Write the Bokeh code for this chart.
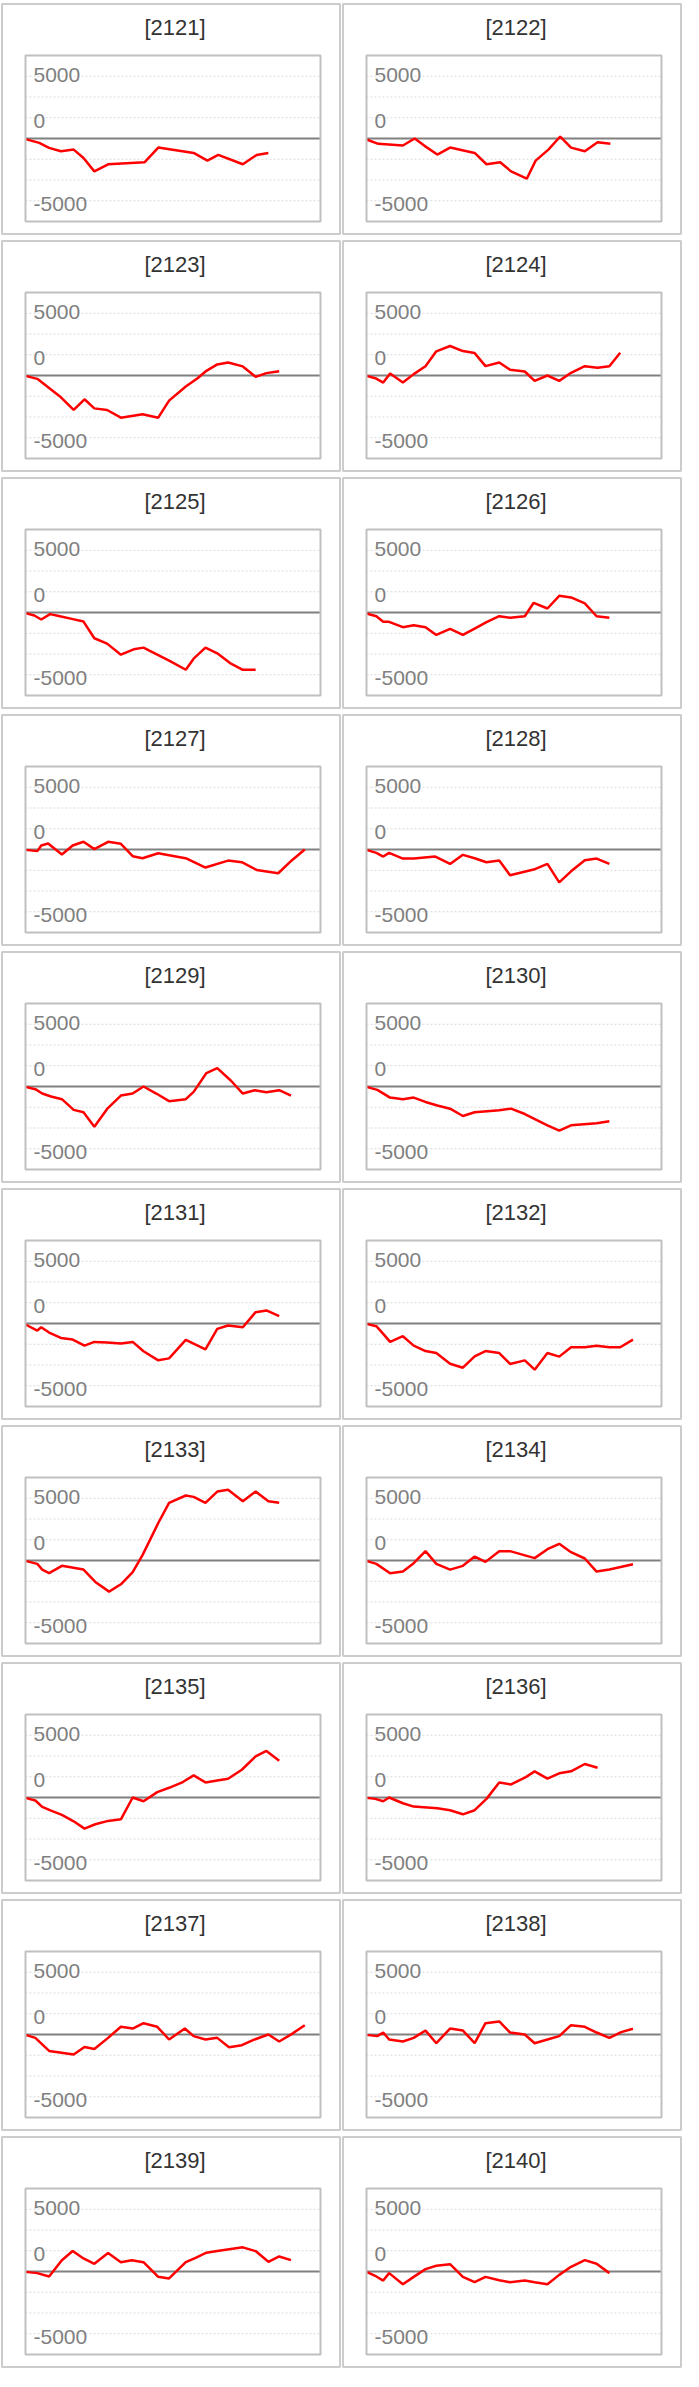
from bokeh.plotting import figure
from bokeh.layouts import gridplot
from bokeh.models import Range1d, ColumnDataSource
from bokeh.core.properties import value
from bokeh.embed import file_html
from bokeh.resources import INLINE

panel_ids = ["2121", "2122", "2123", "2124", "2125", "2126", "2127", "2128", "2129", "2130",
             "2131", "2132", "2133", "2134", "2135", "2136", "2137", "2138", "2139", "2140"]

x_2121 = [0, 1.4, 2.4, 3.6, 4.9, 5.9, 7.0, 8.4, 12.1, 13.5, 17.1, 18.5, 19.6, 22.1, 23.5, 24.7]
y_2121 = [-50, -350, -750, -1020, -890, -1560, -2640, -2070, -1910, -730, -1160, -1780, -1320, -2070, -1320, -1160]

x_2122 = [0, 1.2, 3.7, 4.9, 5.9, 7.2, 8.5, 11.0, 12.2, 13.6, 14.7, 16.3, 17.2, 18.5, 19.7, 20.8, 22.2, 23.5, 24.8]
y_2122 = [-80, -430, -565, 0, -590, -1290, -730, -1160, -2070, -1910, -2640, -3230, -1780, -890, 160, -730, -1020, -300, -430]

x_2123 = [0, 1.2, 2.4, 3.6, 4.9, 6.0, 7.0, 8.3, 9.7, 11.9, 13.5, 14.6, 16.3, 17.5, 18.4, 19.5, 20.6, 22.1, 23.4, 24.5, 25.8]
y_2123 = [-30, -270, -1000, -1750, -2770, -1910, -2640, -2770, -3390, -3120, -3390, -2020, -890, -215, 375, 890, 1050, 730, -110, 190, 350]

x_2124 = [0, 0.9, 1.7, 2.4, 3.7, 4.8, 6.0, 7.1, 8.5, 9.8, 11.0, 12.1, 13.5, 14.6, 16.1, 17.1, 18.4, 19.6, 20.8, 22.2, 23.5, 24.7, 25.8]
y_2124 = [-30, -215, -565, 160, -565, 110, 750, 1940, 2370, 1960, 1800, 750, 1050, 460, 320, -430, 0, -430, 215, 750, 620, 750, 1830]

x_2125 = [0, 0.9, 1.6, 2.5, 3.5, 4.7, 5.9, 7.0, 8.3, 9.7, 11.0, 12.0, 13.4, 14.7, 16.3, 17.1, 18.3, 19.5, 20.8, 22.1, 23.4]
y_2125 = [-50, -240, -565, -130, -300, -510, -730, -2070, -2500, -3390, -2960, -2820, -3390, -3900, -4600, -3710, -2820, -3280, -4060, -4600, -4600]

x_2126 = [0, 1.0, 1.7, 2.3, 3.7, 4.8, 6.0, 7.1, 8.5, 9.8, 11.0, 12.2, 13.5, 14.6, 16.1, 17.0, 18.4, 19.6, 20.8, 22.2, 23.4, 24.7]
y_2126 = [-80, -300, -750, -750, -1180, -1020, -1180, -1800, -1320, -1800, -1290, -780, -300, -430, -300, 780, 320, 1340, 1210, 730, -300, -430]

x_2127 = [0, 1.2, 1.6, 2.3, 3.7, 4.8, 5.9, 7.0, 8.4, 9.7, 10.9, 11.9, 13.5, 16.4, 18.3, 20.6, 22.0, 23.5, 25.7, 27.1, 28.4]
y_2127 = [-30, -130, 320, 480, -400, 320, 620, 30, 620, 460, -540, -700, -300, -730, -1450, -890, -1020, -1640, -1910, -860, 0]

x_2128 = [0, 1.0, 1.7, 2.3, 3.7, 4.8, 7.0, 8.5, 9.8, 11.0, 12.2, 13.5, 14.6, 17.0, 18.4, 19.6, 20.8, 22.2, 23.4, 24.7]
y_2128 = [-30, -270, -565, -270, -730, -730, -565, -1160, -430, -700, -1020, -890, -2070, -1610, -1160, -2640, -1750, -860, -730, -1160]

x_2129 = [0, 1.0, 1.7, 2.6, 3.7, 4.9, 5.9, 7.0, 8.3, 9.7, 10.9, 12.0, 13.3, 14.6, 16.3, 17.1, 18.4, 19.5, 20.9, 22.1, 23.3, 24.5, 25.8, 27.0]
y_2129 = [-30, -215, -565, -800, -1020, -1880, -2070, -3230, -1800, -730, -565, 0, -565, -1180, -1020, -430, 1080, 1480, 460, -565, -300, -460, -300, -730]

x_2130 = [0, 1.1, 2.4, 3.7, 4.8, 6.0, 7.2, 8.5, 9.8, 11.0, 13.5, 14.7, 16.1, 18.4, 19.6, 20.8, 23.4, 24.7]
y_2130 = [-30, -270, -890, -1020, -890, -1240, -1530, -1780, -2370, -2070, -1910, -1780, -2210, -3120, -3550, -3120, -2960, -2800]

x_2131 = [0, 1.2, 1.6, 2.4, 3.6, 4.8, 6.0, 7.0, 8.3, 9.7, 10.9, 12.0, 13.5, 14.6, 16.3, 18.3, 19.5, 20.6, 22.1, 23.4, 24.5, 25.8]
y_2131 = [-80, -565, -300, -730, -1160, -1290, -1780, -1480, -1530, -1610, -1480, -2230, -2960, -2800, -1320, -2070, -430, -160, -300, 910, 1050, 590]

x_2132 = [0, 1.0, 1.7, 2.4, 3.7, 4.8, 6.0, 7.1, 8.5, 9.8, 11.0, 12.1, 13.5, 14.6, 16.1, 17.1, 18.4, 19.6, 20.8, 22.2, 23.4, 24.7, 25.8, 27.1]
y_2132 = [-30, -215, -830, -1480, -1020, -1780, -2210, -2370, -3230, -3550, -2640, -2210, -2370, -3250, -2960, -3710, -2370, -2660, -1910, -1910, -1780, -1910, -1910, -1290]

x_2133 = [0, 1.2, 1.7, 2.4, 3.7, 5.9, 7.1, 8.5, 9.7, 10.9, 11.9, 12.8, 13.5, 14.6, 16.3, 17.1, 18.3, 19.5, 20.6, 22.1, 23.4, 24.7, 25.8]
y_2133 = [-30, -270, -730, -1020, -430, -730, -1720, -2500, -1910, -940, 430, 1880, 3010, 4630, 5220, 5110, 4630, 5540, 5680, 4760, 5540, 4760, 4630]

x_2134 = [0, 1.0, 2.4, 3.7, 4.8, 6.0, 7.1, 8.5, 9.8, 11.0, 12.1, 13.5, 14.6, 17.1, 18.4, 19.6, 20.8, 22.2, 23.4, 24.7, 27.1]
y_2134 = [-30, -270, -1020, -890, -215, 750, -270, -730, -430, 320, -110, 750, 750, 190, 910, 1340, 670, 160, -890, -730, -300]

x_2135 = [0, 1.0, 1.7, 2.6, 3.7, 4.9, 6.0, 7.1, 8.4, 9.7, 10.9, 12.0, 13.4, 14.6, 16.0, 17.1, 18.3, 19.5, 20.6, 22.0, 23.4, 24.5, 25.8]
y_2135 = [-30, -240, -750, -1050, -1400, -1910, -2500, -2150, -1880, -1750, 0, -300, 430, 780, 1240, 1780, 1210, 1370, 1510, 2230, 3310, 3740, 2960]

x_2136 = [0, 0.9, 1.7, 2.3, 3.7, 4.8, 7.2, 8.5, 9.8, 11.0, 12.2, 13.5, 14.7, 16.2, 17.1, 18.4, 19.6, 20.8, 22.2, 23.5]
y_2136 = [-30, -110, -300, 0, -460, -730, -860, -1020, -1350, -1020, -110, 1210, 1050, 1640, 2100, 1510, 1940, 2100, 2690, 2390]

x_2137 = [0, 1.0, 2.4, 4.9, 6.0, 7.0, 8.4, 9.7, 10.9, 12.0, 13.4, 14.6, 16.2, 17.1, 18.3, 19.5, 20.7, 22.0, 23.3, 24.7, 25.8, 27.1, 28.4]
y_2137 = [-30, -270, -1320, -1610, -1000, -1160, -270, 620, 480, 910, 620, -400, 480, -130, -400, -270, -1020, -860, -400, 0, -560, 50, 750]

x_2138 = [0, 1.1, 1.7, 2.3, 3.7, 4.8, 6.0, 7.1, 8.5, 9.8, 11.0, 12.1, 13.5, 14.6, 16.1, 17.1, 18.4, 19.6, 20.8, 22.2, 23.4, 24.7, 25.9, 27.1]
y_2138 = [-30, -130, 160, -400, -560, -270, 320, -700, 480, 320, -700, 910, 1050, 160, 0, -700, -400, -130, 750, 620, 160, -270, 190, 460]

x_2139 = [0, 1.2, 2.4, 3.7, 4.8, 5.9, 7.0, 8.4, 9.7, 10.8, 12.0, 13.5, 14.6, 16.3, 17.3, 18.4, 19.5, 22.1, 23.4, 24.7, 25.8, 27.0]
y_2139 = [-30, -130, -400, 910, 1640, 1050, 620, 1480, 750, 910, 750, -430, -560, 750, 1100, 1510, 1640, 1940, 1640, 780, 1210, 910]

x_2140 = [0, 1.0, 1.7, 2.3, 3.7, 4.8, 6.0, 7.1, 8.5, 9.8, 11.0, 12.1, 13.5, 14.6, 16.1, 17.1, 18.4, 19.6, 20.8, 22.2, 23.4, 24.7]
y_2140 = [-30, -400, -730, -130, -1020, -430, 190, 460, 590, -430, -860, -430, -700, -860, -730, -860, -1020, -270, 380, 910, 620, -130]

y_tick_values = [5000, 0, -5000]
y_tick_labels = ["5000", "0", "-5000"]

series = {
    "2121": (x_2121, y_2121), "2122": (x_2122, y_2122), "2123": (x_2123, y_2123),
    "2124": (x_2124, y_2124), "2125": (x_2125, y_2125), "2126": (x_2126, y_2126),
    "2127": (x_2127, y_2127), "2128": (x_2128, y_2128), "2129": (x_2129, y_2129),
    "2130": (x_2130, y_2130), "2131": (x_2131, y_2131), "2132": (x_2132, y_2132),
    "2133": (x_2133, y_2133), "2134": (x_2134, y_2134), "2135": (x_2135, y_2135),
    "2136": (x_2136, y_2136), "2137": (x_2137, y_2137), "2138": (x_2138, y_2138),
    "2139": (x_2139, y_2139), "2140": (x_2140, y_2140),
}

GRID_STEP = 5000 / 3
GRID_TICKS = [k * GRID_STEP for k in range(-3, 4) if k != 0]
X_MIN, X_MAX = 0, 30
Y_MIN, Y_MAX = -4 * GRID_STEP, 4 * GRID_STEP
FONT = "Liberation Sans"

# panel geometry (pixels)
W, H = 341, 237
CARD_INSET_X, CARD_INSET_Y = 1.5, 3.5
BOX_L, BOX_R = 25, W - 21          # plot box left/right
BOX_B, BOX_T = 16, H - 55          # plot box bottom/top (y measured upward)
TITLE_Y = H - 26.5

# data ranges stretched so that data extents map onto the plot box
_sx = (BOX_R - BOX_L) / (X_MAX - X_MIN)
_sy = (BOX_T - BOX_B) / (Y_MAX - Y_MIN)
DX_START, DX_END = X_MIN - BOX_L / _sx, X_MAX + (W - BOX_R) / _sx
DY_START, DY_END = Y_MIN - BOX_B / _sy, Y_MAX + (H - BOX_T) / _sy


def make_panel(pid):
    xs, ys = series[pid]
    p = figure(width=W, height=H, output_backend="svg", toolbar_location=None,
               x_range=Range1d(0, W), y_range=Range1d(0, H),
               x_axis_location=None, y_axis_location=None,
               min_border=0, outline_line_color=None)
    p.xgrid.visible = False
    p.ygrid.visible = False
    p.background_fill_color = "white"
    p.border_fill_color = "white"
    p.extra_x_ranges = {"d": Range1d(DX_START, DX_END)}
    p.extra_y_ranges = {"d": Range1d(DY_START, DY_END)}

    # card border
    p.quad(left=[CARD_INSET_X], right=[W - CARD_INSET_X], bottom=[CARD_INSET_Y], top=[H - CARD_INSET_Y],
           fill_color=None, line_color="#cccccc", line_width=2)

    # title
    p.text(x=[(BOX_L + BOX_R) / 2 + 2], y=[TITLE_Y], text=["[" + pid + "]"],
           text_align="center", text_baseline="middle",
           text_font=value(FONT), text_font_size=value("22px"), text_color="#333333")

    # gridlines
    p.segment(x0=[X_MIN] * len(GRID_TICKS), x1=[X_MAX] * len(GRID_TICKS), y0=GRID_TICKS, y1=GRID_TICKS,
              x_range_name="d", y_range_name="d",
              line_color="#d9d9d9", line_width=1, line_dash="2 2")
    # zero line
    p.segment(x0=[X_MIN], x1=[X_MAX], y0=[0], y1=[0], x_range_name="d", y_range_name="d",
              line_color="#808080", line_width=2)

    # data line
    p.line(xs, ys, x_range_name="d", y_range_name="d", line_color="#ff0000", line_width=2.5)

    # y labels (drawn inside the plot box)
    src = ColumnDataSource(dict(x=[X_MIN] * len(y_tick_values), y=y_tick_values,
                                text=y_tick_labels, dy=[-1, -17.7, 3.3]))
    p.text(x="x", y="y", text="text", source=src, x_offset=8, y_offset="dy",
           x_range_name="d", y_range_name="d",
           text_align="left", text_baseline="middle",
           text_font=value(FONT), text_font_size=value("21px"), text_color="#808080")

    # plot box outline
    p.quad(left=[X_MIN], right=[X_MAX], bottom=[Y_MIN], top=[Y_MAX],
           x_range_name="d", y_range_name="d",
           fill_color=None, line_color="#c0c0c0", line_width=2)
    return p


figs = [make_panel(pid) for pid in panel_ids]
layout = gridplot(figs, ncols=2, toolbar_location=None)
open("out.html", "w").write(file_html(layout, INLINE))
